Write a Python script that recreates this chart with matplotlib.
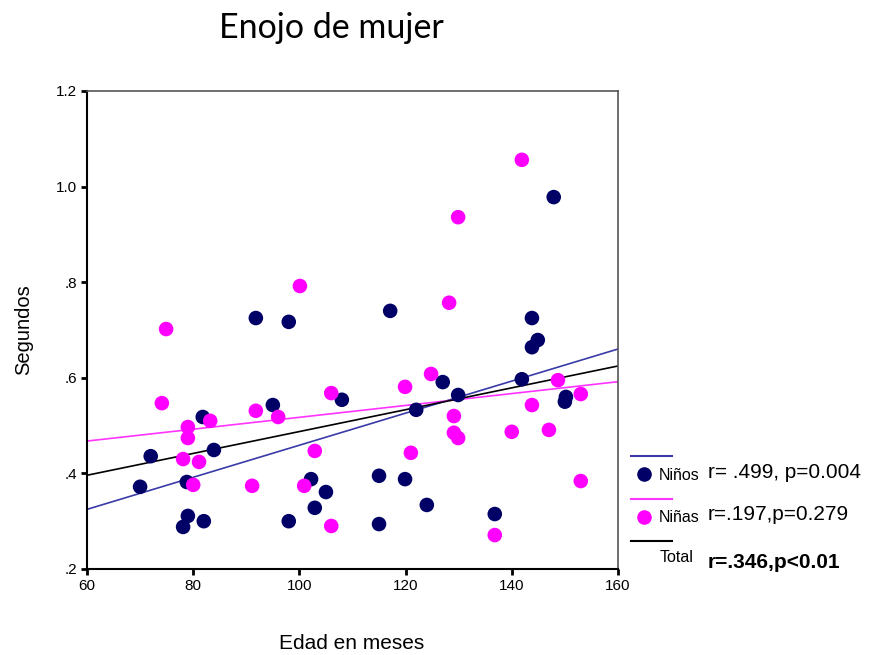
import matplotlib
matplotlib.use("Agg")
import matplotlib.pyplot as plt
from matplotlib.lines import Line2D
from matplotlib.ticker import FixedLocator, FixedFormatter
import numpy as np

# Edad (meses) y tiempo (segundos) por grupo
ninos_edad = [70, 72, 78.1, 79, 78.8, 82, 81.8, 83.9, 91.8, 98, 95, 98, 102.2, 102.9,
              105, 108, 117.1, 115, 115, 119.9, 122, 124, 127, 129.9, 136.8, 141.9,
              143.8, 143.8, 144.9, 150, 150.2, 147.9]
ninos_seg = [0.372, 0.436, 0.288, 0.311, 0.382, 0.300, 0.518, 0.449, 0.725, 0.717,
             0.543, 0.300, 0.388, 0.328, 0.361, 0.554, 0.740, 0.395, 0.294, 0.388,
             0.533, 0.334, 0.591, 0.564, 0.315, 0.597, 0.725, 0.664, 0.679, 0.550,
             0.560, 0.978]

ninas_edad = [74.9, 74.1, 79, 79, 78.1, 81.1, 80, 83.2, 91.8, 91.1, 96, 100.1, 100.9,
              102.9, 106, 106, 121, 119.9, 124.8, 128.2, 129.1, 129.1, 129.9, 129.9,
              136.8, 140, 141.9, 143.8, 147, 148.7, 153, 153]
ninas_seg = [0.702, 0.547, 0.497, 0.474, 0.430, 0.424, 0.376, 0.510, 0.531, 0.374,
             0.518, 0.792, 0.374, 0.447, 0.568, 0.290, 0.443, 0.581, 0.608, 0.757,
             0.520, 0.485, 0.474, 0.936, 0.271, 0.487, 1.056, 0.543, 0.491, 0.595,
             0.566, 0.384]

x_ticks = [60, 80, 100, 120, 140, 160]
y_ticks = [0.2, 0.4, 0.6, 0.8, 1.0, 1.2]
y_tick_labels = [".2", ".4", ".6", ".8", "1.0", "1.2"]

grupos = [
    ("Niños", "r= .499, p=0.004", "#000066", "#3a3aa8"),
    ("Niñas", "r=.197,p=0.279", "#ff00ff", "#ff33ff"),
]

plt.rcParams["font.family"] = ["Liberation Sans", "DejaVu Sans"]

fig = plt.figure(figsize=(8.7, 6.55), dpi=100)
ax = fig.add_axes([0.1, 0.1313, 0.6103, 0.7298])

xs = np.linspace(60, 160, 2)

# regresión por grupo y total
datos = [(ninos_edad, ninos_seg), (ninas_edad, ninas_seg)]
for (edad, seg), (_, _, c_pt, c_ln) in zip(datos, grupos):
    m, b = np.polyfit(edad, seg, 1)
    ax.plot(xs, m * xs + b, color=c_ln, lw=1.2, zorder=2)

todo_edad = ninos_edad + ninas_edad
todo_seg = ninos_seg + ninas_seg
m, b = np.polyfit(todo_edad, todo_seg, 1)
ax.plot(xs, m * xs + b, color="black", lw=1.2, zorder=2)

for (edad, seg), (_, _, c_pt, _) in zip(datos, grupos):
    ax.scatter(edad, seg, s=110, color=c_pt, edgecolors="none", zorder=3)

ax.set_xlim(60, 160)
ax.set_ylim(0.2, 1.2)
ax.xaxis.set_major_locator(FixedLocator(x_ticks))
ax.yaxis.set_major_locator(FixedLocator(y_ticks))
ax.yaxis.set_major_formatter(FixedFormatter(y_tick_labels))
ax.tick_params(direction="out", length=4, width=2, labelsize=11, pad=3)
for lado in ["left", "bottom"]:
    ax.spines[lado].set_linewidth(1.5)
for lado in ["top", "right"]:
    ax.spines[lado].set_color("#555555")
    ax.spines[lado].set_linewidth(1.2)

ax.set_xlabel("Edad en meses", fontsize=15, va="center")
ax.set_ylabel("Segundos", fontsize=14.5, va="center")
ax.xaxis.set_label_coords(0.499, -0.155)
ax.yaxis.set_label_coords(-0.12, 0.5)

fig.text(331 / 870, 1 - 38 / 655, "Enojo de mujer", fontsize=24.5, family="Lato",
         ha="center", va="baseline")

# leyenda fuera del eje, abajo a la derecha
def fx(px):
    return px / 870


def fy(py):
    return 1 - py / 655


filas = [456, 499]
for fila, (nombre, stat, c_pt, c_ln) in zip(filas, grupos):
    fig.add_artist(Line2D([fx(631), fx(672)], [fy(fila), fy(fila)], color=c_ln, lw=1.5))
    fig.add_artist(Line2D([fx(644)], [fy(fila + 18)], marker="o", markersize=10.5,
                          color=c_pt, markeredgecolor="none"))
    fig.text(fx(659), fy(fila + 19), nombre, fontsize=11.5, va="center")
    fig.text(fx(708), fy(fila + 16), stat, fontsize=15, va="center")

fig.add_artist(Line2D([fx(631), fx(672)], [fy(541), fy(541)], color="black", lw=1.5))
fig.text(fx(660), fy(558), "Total", fontsize=11.5, va="center")
fig.text(fx(708), fy(563), "r=.346,p<0.01", fontsize=15, fontweight="bold", va="center")

fig.savefig("out.png", dpi=100)
